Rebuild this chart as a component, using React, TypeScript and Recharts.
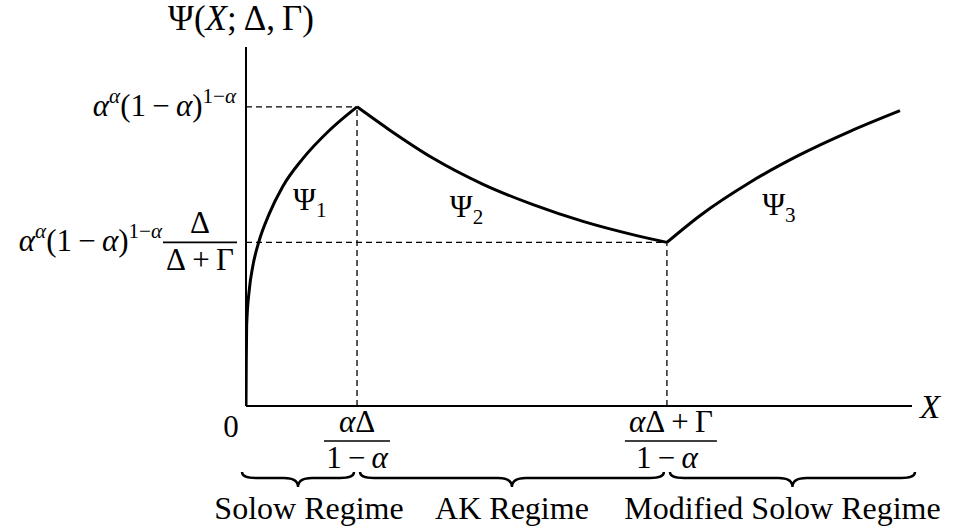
import React from "react"
import {
  LineChart,
  Line,
  XAxis,
  YAxis,
  ReferenceLine,
  ReferenceArea,
  ReferenceDot,
} from "recharts"

// kink points of the piecewise curve
const PEAK_X = 1.667
const PEAK_Y = 1.0
const KINK_X = 6.32
const KINK_Y = 0.547
const X_MAX = 10
const Y_MAX = 1.2

// Psi_1 : Solow regime
const psi1X = [0, 0.004, 0.01, 0.05, 0.1, 0.19, 0.35, 0.55, 0.85, 1.25, PEAK_X]
const psi1Y = [0, 0.15, 0.27, 0.39, 0.465, 0.547, 0.643, 0.733, 0.826, 0.921, PEAK_Y]
// Psi_2 : AK regime
const psi2X = [PEAK_X, 2.16, 2.81, 3.56, 4.31, 5.06, 5.82, KINK_X]
const psi2Y = [PEAK_Y, 0.922, 0.828, 0.741, 0.673, 0.617, 0.572, KINK_Y]
// Psi_3 : modified Solow regime
const psi3X = [KINK_X, 6.82, 7.57, 8.32, 9.07, 9.82]
const psi3Y = [KINK_Y, 0.637, 0.748, 0.84, 0.918, 0.987]

const regimeNames = ["Solow Regime", "AK Regime", "Modified Solow Regime"]
const regimeBounds = [0, PEAK_X, KINK_X, X_MAX]
const curveNames = ["1", "2", "3"]

const xTicks = [0, PEAK_X, KINK_X]
const yTicks = [KINK_Y, PEAK_Y]

const toRows = (xs: number[], ys: number[]) => xs.map((x, i) => ({ x, y: ys[i] }))
const psi1 = toRows(psi1X, psi1Y)
const psi2 = toRows(psi2X, psi2Y)
const psi3 = toRows(psi3X, psi3Y)

const FONT = "'Liberation Serif', 'Times New Roman', serif"
const TS = "\u2009"
const M = 31 // math font size

type Piece = { t: string; i?: boolean; s?: "sup" | "sub" }

function MathText({
  x,
  y,
  parts,
  size = M,
  anchor = "start",
}: {
  x: number
  y: number
  parts: Piece[]
  size?: number
  anchor?: "start" | "middle" | "end"
}) {
  let cur = 0
  const spans = parts.map((p, k) => {
    const target = p.s === "sup" ? -size * 0.42 : p.s === "sub" ? size * 0.22 : 0
    const dy = target - cur
    cur = target
    return (
      <tspan
        key={k}
        dy={dy}
        fontStyle={p.i ? "italic" : "normal"}
        fontSize={p.s ? size * 0.68 : size}
      >
        {p.t}
      </tspan>
    )
  })
  return (
    <text x={x} y={y} textAnchor={anchor} fontFamily={FONT} fill="#000">
      {spans}
    </text>
  )
}

const levelParts: Piece[] = [
  { t: "α", i: true },
  { t: "α", i: true, s: "sup" },
  { t: "(1" + TS + "−" + TS },
  { t: "α", i: true },
  { t: ")" },
  { t: "1−", s: "sup" },
  { t: "α", i: true, s: "sup" },
]

function YTick(props: any) {
  const { x, y, payload } = props
  if (payload.value === PEAK_Y) {
    return <MathText x={x - 10} y={y + 9} parts={levelParts} anchor="end" />
  }
  return (
    <g>
      <MathText x={x - 84} y={y + 9} parts={levelParts} anchor="end" />
      <MathText x={x - 46} y={y - 9} parts={[{ t: "Δ" }]} anchor="middle" />
      <line x1={x - 83} x2={x - 9} y1={y} y2={y} stroke="#000" strokeWidth={1.6} />
      <MathText x={x - 46} y={y + 28} parts={[{ t: "Δ" + TS + "+" + TS + "Γ" }]} anchor="middle" />
    </g>
  )
}

function XTick(props: any) {
  const { x, y, payload } = props
  if (payload.value === 0) {
    return <MathText x={x - 15} y={y + 31} parts={[{ t: "0" }]} anchor="middle" />
  }
  const num: Piece[] =
    payload.value === PEAK_X
      ? [{ t: "α", i: true }, { t: "Δ" }]
      : [{ t: "α", i: true }, { t: "Δ" + TS + "+" + TS + "Γ" }]
  const half = payload.value === PEAK_X ? 33 : 46
  const cx = payload.value === PEAK_X ? x : x + 4
  return (
    <g>
      <MathText x={cx} y={y + 26} parts={num} anchor="middle" />
      <line x1={cx - half} x2={cx + half} y1={y + 35} y2={y + 35} stroke="#000" strokeWidth={1.6} />
      <MathText
        x={x}
        y={y + 62}
        parts={[{ t: "1" + TS + "−" + TS }, { t: "α", i: true }]}
        anchor="middle"
      />
    </g>
  )
}

function Brace(props: any) {
  const { x, y, width, height, padL, padR, label, dx } = props
  const x1 = x + padL
  const x2 = x + width - padR
  const xm = (x1 + x2) / 2
  const top = y
  const mid = y + 6
  const bot = y + height
  const r = 14
  const d = `M${x1},${top} Q${x1},${mid} ${x1 + r},${mid} L${xm - r},${mid} Q${xm},${mid} ${xm},${bot} Q${xm},${mid} ${xm + r},${mid} L${x2 - r},${mid} Q${x2},${mid} ${x2},${top}`
  return (
    <g>
      <path d={d} fill="none" stroke="#000" strokeWidth={2.4} />
      <text x={xm + dx} y={bot + 32} textAnchor="middle" fontFamily={FONT} fontSize={32} fill="#000">
        {label}
      </text>
    </g>
  )
}

const curveLabelPos = [
  { x: 0.706, y: 0.655 },
  { x: 3.06, y: 0.632 },
  { x: 7.75, y: 0.638 },
]
const braceInset = [
  [-4, 3],
  [3, 3],
  [3, -3],
]
const braceLabelDx = [11, 0, -10]

export default function App() {
  const dash = "6 4"
  return (
    <div style={{ position: "absolute", left: 0, top: 0, width: 960, height: 531, background: "#fff" }}>
      <LineChart width={960} height={531} margin={{ top: 47, right: 48, left: 186, bottom: 95 }}>
        <XAxis
          type="number"
          dataKey="x"
          domain={[0, X_MAX]}
          allowDataOverflow
          ticks={xTicks}
          interval={0}
          tick={<XTick />}
          tickLine={false}
          tickSize={0}
          tickMargin={0}
          axisLine={{ stroke: "#000", strokeWidth: 2 }}
          height={30}
        />
        <YAxis
          type="number"
          domain={[0, Y_MAX]}
          allowDataOverflow
          ticks={yTicks}
          interval={0}
          tick={<YTick />}
          tickLine={false}
          tickSize={0}
          tickMargin={0}
          axisLine={{ stroke: "#000", strokeWidth: 2 }}
          width={60}
        />
        <ReferenceLine segment={[{ x: 0, y: PEAK_Y }, { x: PEAK_X, y: PEAK_Y }]} stroke="#000" strokeWidth={1.3} strokeDasharray={dash} ifOverflow="visible" />
        <ReferenceLine segment={[{ x: PEAK_X, y: 0 }, { x: PEAK_X, y: PEAK_Y }]} stroke="#000" strokeWidth={1.3} strokeDasharray={dash} ifOverflow="visible" />
        <ReferenceLine segment={[{ x: 0, y: KINK_Y }, { x: KINK_X, y: KINK_Y }]} stroke="#000" strokeWidth={1.3} strokeDasharray={dash} ifOverflow="visible" />
        <ReferenceLine segment={[{ x: KINK_X, y: 0 }, { x: KINK_X, y: KINK_Y }]} stroke="#000" strokeWidth={1.3} strokeDasharray={dash} ifOverflow="visible" />

        {[psi1, psi2, psi3].map((d, i) => (
          <Line
            key={i}
            data={d}
            dataKey="y"
            type="monotone"
            stroke="#000"
            strokeWidth={3}
            dot={false}
            activeDot={false}
            isAnimationActive={false}
          />
        ))}

        {regimeNames.map((name, i) => (
          <ReferenceArea
            key={name}
            x1={regimeBounds[i]}
            x2={regimeBounds[i + 1]}
            y1={-0.2206}
            y2={-0.2707}
            ifOverflow="visible"
            shape={(p: any) => (
              <Brace {...p} padL={braceInset[i][0]} padR={braceInset[i][1]} label={name} dx={braceLabelDx[i]} />
            )}
          />
        ))}

        {curveNames.map((n, i) => (
          <ReferenceDot
            key={n}
            x={curveLabelPos[i].x}
            y={curveLabelPos[i].y}
            r={0}
            ifOverflow="visible"
            shape={(p: any) => (
              <MathText x={p.cx} y={p.cy} size={31} parts={[{ t: "Ψ" }, { t: n, s: "sub" }]} />
            )}
          />
        ))}

        <ReferenceDot
          x={0}
          y={Y_MAX}
          r={0}
          ifOverflow="visible"
          shape={(p: any) => (
            <MathText
              x={p.cx - 5}
              y={p.cy - 17}
              size={35}
              anchor="middle"
              parts={[
                { t: "Ψ(" },
                { t: "X", i: true },
                { t: ";" + TS + "Δ," + TS + "Γ)" },
              ]}
            />
          )}
        />
        <ReferenceDot
          x={X_MAX}
          y={0}
          r={0}
          ifOverflow="visible"
          shape={(p: any) => (
            <MathText x={p.cx + 8} y={p.cy + 12} size={33} parts={[{ t: "X", i: true }]} />
          )}
        />
      </LineChart>
    </div>
  )
}
